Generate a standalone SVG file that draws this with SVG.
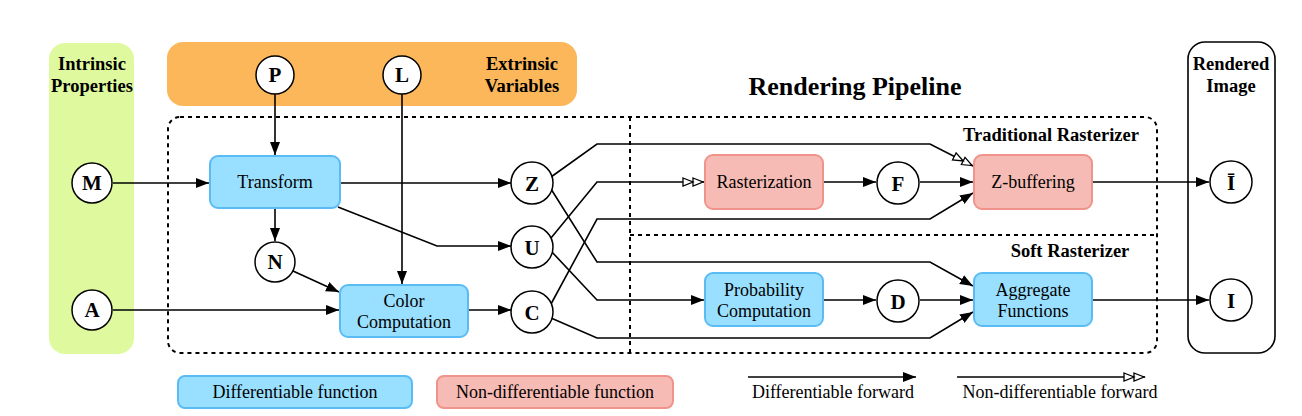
<svg xmlns="http://www.w3.org/2000/svg" width="1302" height="416" viewBox="0 0 1302 416">
<defs>
<marker id="arr" markerUnits="userSpaceOnUse" markerWidth="14" markerHeight="12" viewBox="0 0 14 12" refX="13" refY="6" orient="auto">
<path d="M0,1 L13,6 L0,11 Z" fill="#000"/>
</marker>
<marker id="arr2" markerUnits="userSpaceOnUse" markerWidth="24" markerHeight="12" viewBox="0 0 24 12" refX="22" refY="6" orient="auto">
<path d="M1,2 L11,6 L1,10 Z M11,2 L21,6 L11,10 Z" fill="#fff" stroke="#000" stroke-width="1.3"/>
</marker>
</defs>
<style>
text{font-family:'Liberation Serif','DejaVu Serif',serif;fill:#000;text-anchor:middle}
.b{font-weight:bold}
.lbl{font-size:18.5px;font-weight:bold}
.box{font-size:18px}
.node{fill:#fff;stroke:#000;stroke-width:1.5}
.nl{font-size:21px;font-weight:bold}
.diff{fill:#99dfff;stroke:#5bbcf5;stroke-width:2}
.nd{fill:#f6bbb4;stroke:#f0938a;stroke-width:2}
.c{fill:none;stroke:#000;stroke-width:1.6}
.dash{fill:none;stroke:#000;stroke-width:2;stroke-dasharray:4,4}
</style>
<rect width="1302" height="416" fill="#fff"/>

<g id="intrinsic">
<rect x="49" y="43" width="85" height="311" rx="16" fill="#dffa9e"/>
<text class="lbl" x="92" y="70">Intrinsic</text>
<text class="lbl" x="92" y="92">Properties</text>
</g>
<g id="extrinsic">
<rect x="167" y="42" width="410" height="64" rx="16" fill="#fbb75a"/>
<text class="lbl" x="522" y="70">Extrinsic</text>
<text class="lbl" x="522" y="92">Variables</text>
</g>
<g id="rendered">
<rect x="1188" y="42" width="87" height="311" rx="17" fill="#fff" stroke="#000" stroke-width="1.6"/>
<text class="lbl" x="1231" y="70">Rendered</text>
<text class="lbl" x="1231" y="92">Image</text>
</g>

<g id="pipeline">
<rect x="168" y="117" width="989" height="236" rx="12" class="dash"/>
<line x1="630" y1="117" x2="630" y2="353" class="dash"/>
<line x1="630" y1="235" x2="1157" y2="235" class="dash"/>
<text class="b" x="855" y="95" font-size="26">Rendering Pipeline</text>
<text class="lbl" x="1051" y="141">Traditional Rasterizer</text>
<text class="lbl" x="1070" y="257">Soft Rasterizer</text>
</g>

<g id="connectors">
<line x1="275" y1="94" x2="275" y2="155" class="c" marker-end="url(#arr)"/>
<line x1="402" y1="94" x2="402" y2="284" class="c" marker-end="url(#arr)"/>
<line x1="113" y1="183" x2="209" y2="183" class="c" marker-end="url(#arr)"/>
<line x1="340" y1="183" x2="511" y2="183" class="c" marker-end="url(#arr)"/>
<polyline points="338,207 437,246 511,246" class="c" marker-end="url(#arr)"/>
<line x1="275" y1="209" x2="275" y2="241" class="c" marker-end="url(#arr)"/>
<line x1="293" y1="271" x2="339" y2="292" class="c" marker-end="url(#arr)"/>
<line x1="113" y1="310" x2="339" y2="310" class="c" marker-end="url(#arr)"/>
<line x1="468" y1="310" x2="511" y2="310" class="c" marker-end="url(#arr)"/>

<polyline points="551,177 597,144 930,144 973,166" class="c" marker-end="url(#arr2)"/>
<polyline points="551,238 597,182 704,182" class="c" marker-end="url(#arr2)"/>
<polyline points="551,304 597,219 930,219 973,193" class="c" marker-end="url(#arr)"/>
<polyline points="551,189 597,262 930,262 973,286" class="c" marker-end="url(#arr)"/>
<polyline points="551,251 597,300 704,300" class="c" marker-end="url(#arr)"/>
<polyline points="551,318 597,338 930,338 973,312" class="c" marker-end="url(#arr)"/>

<line x1="823" y1="182" x2="876" y2="182" class="c" marker-end="url(#arr)"/>
<line x1="920" y1="182" x2="973" y2="182" class="c" marker-end="url(#arr)"/>
<line x1="823" y1="300" x2="876" y2="300" class="c" marker-end="url(#arr)"/>
<line x1="920" y1="300" x2="973" y2="300" class="c" marker-end="url(#arr)"/>
<line x1="1093" y1="182" x2="1209" y2="182" class="c" marker-end="url(#arr)"/>
<line x1="1093" y1="300" x2="1209" y2="300" class="c" marker-end="url(#arr)"/>
</g>

<g id="P"><circle cx="275" cy="75" r="19" class="node"/><text class="nl" x="275" y="82">P</text></g>
<g id="L"><circle cx="402" cy="75" r="19" class="node"/><text class="nl" x="402" y="82">L</text></g>
<g id="M"><circle cx="92" cy="183" r="20" class="node"/><text class="nl" x="92" y="190">M</text></g>
<g id="A"><circle cx="92" cy="310" r="20" class="node"/><text class="nl" x="92" y="317">A</text></g>
<g id="N"><circle cx="275" cy="262" r="20" class="node"/><text class="nl" x="275" y="269">N</text></g>
<g id="Z"><circle cx="532" cy="183" r="21" class="node"/><text class="nl" x="532" y="191">Z</text></g>
<g id="U"><circle cx="532" cy="247" r="21" class="node"/><text class="nl" x="532" y="255">U</text></g>
<g id="C"><circle cx="532" cy="312" r="21" class="node"/><text class="nl" x="532" y="320">C</text></g>
<g id="F"><circle cx="898" cy="183" r="21" class="node"/><text class="nl" x="898" y="191">F</text></g>
<g id="D"><circle cx="898" cy="301" r="21" class="node"/><text class="nl" x="898" y="309">D</text></g>
<g id="Ibar"><circle cx="1231" cy="182" r="21" class="node"/><text class="nl" x="1231" y="190">Ī</text></g>
<g id="I"><circle cx="1231" cy="300" r="21" class="node"/><text class="nl" x="1231" y="308">I</text></g>

<g id="transform"><rect x="210" y="156" width="130" height="52" rx="8" class="diff"/><text class="box" x="275" y="188">Transform</text></g>
<g id="color"><rect x="340" y="285" width="128" height="52" rx="8" class="diff"/><text class="box" x="404" y="307">Color</text><text class="box" x="404" y="328">Computation</text></g>
<g id="rasterization"><rect x="705" y="155" width="118" height="54" rx="8" class="nd"/><text class="box" x="764" y="188">Rasterization</text></g>
<g id="zbuffer"><rect x="974" y="155" width="118" height="54" rx="8" class="nd"/><text class="box" x="1033" y="188">Z-buffering</text></g>
<g id="prob"><rect x="705" y="273" width="118" height="53" rx="8" class="diff"/><text class="box" x="764" y="296">Probability</text><text class="box" x="764" y="317">Computation</text></g>
<g id="aggregate"><rect x="974" y="273" width="118" height="53" rx="8" class="diff"/><text class="box" x="1033" y="296">Aggregate</text><text class="box" x="1033" y="317">Functions</text></g>

<g id="legend">
<rect x="178" y="376" width="234" height="32" rx="7" class="diff"/>
<text class="box" x="295" y="398">Differentiable function</text>
<rect x="437" y="376" width="236" height="32" rx="7" class="nd"/>
<text class="box" x="555" y="398">Non-differentiable function</text>
<line x1="748" y1="377" x2="916" y2="377" class="c" marker-end="url(#arr)"/>
<text class="box" x="833" y="398">Differentiable forward</text>
<line x1="957" y1="377" x2="1145" y2="377" class="c" marker-end="url(#arr2)"/>
<text class="box" x="1060" y="398">Non-differentiable forward</text>
</g>
</svg>
